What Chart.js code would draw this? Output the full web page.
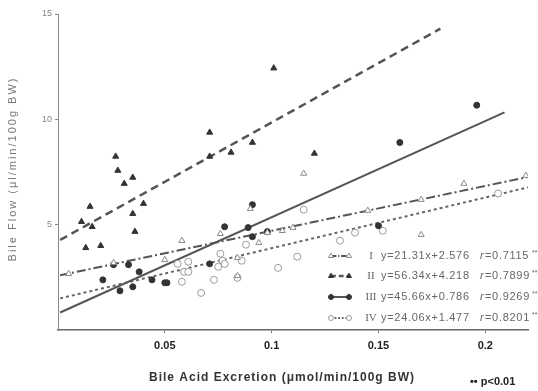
<!DOCTYPE html>
<html>
<head>
<meta charset="utf-8">
<script src="https://cdn.jsdelivr.net/npm/chart.js@4/dist/chart.umd.min.js"></script>
<style>
html, body { margin: 0; padding: 0; background: #fff; }
#wrap { width: 538px; height: 391px; position: relative; }
</style>
</head>
<body>
<div id="wrap"><canvas id="bileChart"></canvas></div>
<script>
// axis ticks
const xTicks = [0.05, 0.1, 0.15, 0.2];
const yTicks = [5, 10, 15];

// regression per group
const groups = ['I', 'II', 'III', 'IV'];
const slopes = [21.31, 56.34, 45.66, 24.06];
const intercepts = [2.576, 4.218, 0.786, 1.477];
const rValues = ['0.7115', '0.7899', '0.9269', '0.8201'];
const lineFrom = [0.001, 0.001, 0.001, 0.001];
const lineTo = [0.22, 0.179, 0.209, 0.22];

// group I (open triangles)
const excretionI = [0.005, 0.026, 0.050, 0.058, 0.076, 0.084, 0.084, 0.094, 0.090, 0.098, 0.105, 0.110, 0.115, 0.145, 0.170, 0.170, 0.190, 0.219];
const flowI      = [2.67, 3.19, 3.33, 4.24, 4.57, 3.43, 2.57, 4.14, 5.76, 4.62, 4.71, 4.86, 7.43, 5.67, 6.19, 4.52, 6.95, 7.33];

// group II (filled triangles)
const excretionII = [0.011, 0.015, 0.016, 0.013, 0.020, 0.027, 0.028, 0.031, 0.035, 0.035, 0.036, 0.040, 0.071, 0.071, 0.081, 0.091, 0.101, 0.120];
const flowII      = [5.14, 5.86, 4.90, 3.90, 4.00, 8.24, 7.57, 6.95, 7.24, 5.52, 4.67, 6.00, 9.38, 8.24, 8.43, 8.90, 12.43, 8.38];

// group III (filled circles)
const excretionIII = [0.021, 0.029, 0.035, 0.038, 0.033, 0.026, 0.044, 0.050, 0.051, 0.071, 0.078, 0.089, 0.091, 0.091, 0.098, 0.150, 0.160, 0.196];
const flowIII      = [2.38, 1.86, 2.05, 2.76, 3.10, 3.10, 2.38, 2.24, 2.24, 3.14, 4.90, 4.86, 4.43, 5.95, 4.67, 4.95, 8.90, 10.67];

// group IV (open circles)
const excretionIV = [0.056, 0.059, 0.061, 0.061, 0.058, 0.067, 0.073, 0.076, 0.077, 0.078, 0.075, 0.086, 0.088, 0.084, 0.103, 0.112, 0.115, 0.132, 0.139, 0.152, 0.206];
const flowIV      = [3.14, 2.76, 2.76, 3.24, 2.29, 1.76, 2.38, 3.62, 3.29, 3.14, 3.00, 3.29, 4.05, 2.48, 2.95, 3.48, 5.71, 4.24, 4.62, 4.71, 6.48];

const pointSets = [
    { xs: excretionI, ys: flowI, style: 'triangle', fill: '#fff', stroke: '#8a8a8a', r: 3.5 },
    { xs: excretionII, ys: flowII, style: 'triangle', fill: '#333', stroke: '#333', r: 3.5 },
    { xs: excretionIII, ys: flowIII, style: 'circle', fill: '#333', stroke: '#333', r: 3 },
    { xs: excretionIV, ys: flowIV, style: 'circle', fill: '#fff', stroke: '#9a9a9a', r: 3.5 }
];
const lineStyles = [
    { dash: [9, 3, 2, 3], width: 2, color: '#555' },
    { dash: [8, 5], width: 2.5, color: '#555' },
    { dash: [], width: 2, color: '#555' },
    { dash: [3, 3], width: 2, color: '#666' }
];

const datasets = [];
groups.forEach((g, i) => {
    const a = slopes[i], b = intercepts[i];
    datasets.push({
        type: 'line',
        label: g + ' fit',
        data: [lineFrom[i], lineTo[i]].map(x => ({ x: x, y: a * x + b })),
        borderColor: lineStyles[i].color,
        borderWidth: lineStyles[i].width,
        borderDash: lineStyles[i].dash,
        pointRadius: 0,
        fill: false,
        order: 2
    });
});
pointSets.forEach((p, i) => {
    datasets.push({
        type: 'scatter',
        label: groups[i],
        data: p.xs.map((x, k) => ({ x: x, y: p.ys[k] })),
        pointStyle: p.style,
        pointRadius: p.r,
        backgroundColor: p.fill,
        borderColor: p.stroke,
        borderWidth: 1,
        order: 1
    });
});

function drawMarker(ctx, style, x, y, r, fill, stroke) {
    ctx.save();
    ctx.setLineDash([]);
    ctx.beginPath();
    if (style === 'circle') {
        ctx.arc(x, y, r, 0, Math.PI * 2);
    } else {
        ctx.moveTo(x, y - r * 1.15);
        ctx.lineTo(x + r, y + r * 0.6);
        ctx.lineTo(x - r, y + r * 0.6);
        ctx.closePath();
    }
    ctx.fillStyle = fill;
    ctx.fill();
    ctx.strokeStyle = stroke;
    ctx.lineWidth = 1;
    ctx.stroke();
    ctx.restore();
}

const annotations = {
    id: 'annotations',
    afterDraw(chart) {
        const ctx = chart.ctx;
        ctx.save();

        // axis titles
        ctx.fillStyle = '#333';
        ctx.textAlign = 'center';
        ctx.textBaseline = 'middle';
        ctx.font = 'bold 12px "Liberation Sans", Arial, sans-serif';
        ctx.letterSpacing = '1px';
        ctx.fillText('Bile Acid Excretion (\u03bcmol/min/100g BW)', 282, 378);

        ctx.save();
        ctx.translate(13, 169);
        ctx.rotate(-Math.PI / 2);
        ctx.fillStyle = '#777';
        ctx.font = '11px "Liberation Sans", Arial, sans-serif';
        ctx.letterSpacing = '2px';
        ctx.fillText('Bile Flow (\u03bcl/min/100g BW)', 0, 0);
        ctx.restore();

        ctx.letterSpacing = '0px';
        ctx.fillStyle = '#222';
        ctx.textAlign = 'left';
        ctx.font = 'bold 11px "Liberation Sans", Arial, sans-serif';
        ctx.fillText('\u2022\u2022 p<0.01', 470, 382);

        // legend box
        const rows = [256, 276, 297, 318];
        groups.forEach((g, i) => {
            const y = rows[i];
            const ls = lineStyles[i];
            const ps = pointSets[i];
            ctx.save();
            ctx.strokeStyle = ls.color;
            ctx.lineWidth = ls.width;
            ctx.setLineDash(ls.dash.map(d => d * 0.6));
            ctx.beginPath();
            ctx.moveTo(331, y);
            ctx.lineTo(349, y);
            ctx.stroke();
            ctx.restore();
            drawMarker(ctx, ps.style, 331, y, 2.5, ps.fill, ps.stroke);
            drawMarker(ctx, ps.style, 349, y, 2.5, ps.fill, ps.stroke);

            ctx.fillStyle = '#666';
            ctx.textAlign = 'center';
            ctx.letterSpacing = '0px';
            ctx.font = '11px "Liberation Serif", serif';
            ctx.fillText(g, 371, y);

            ctx.textAlign = 'left';
            ctx.letterSpacing = '0.7px';
            ctx.font = '11px "Liberation Sans", Arial, sans-serif';
            ctx.fillText('y=' + slopes[i].toFixed(2) + 'x+' + intercepts[i].toFixed(3), 381, y);
            ctx.font = 'italic 11px "Liberation Sans", Arial, sans-serif';
            ctx.fillText('r', 480, y);
            ctx.font = '11px "Liberation Sans", Arial, sans-serif';
            ctx.fillText('=' + rValues[i], 485, y);
            ctx.letterSpacing = '0px';
            ctx.font = '7px "Liberation Sans", Arial, sans-serif';
            ctx.fillText('**', 532, y - 3);
        });
        ctx.restore();
    }
};

new Chart(document.getElementById('bileChart').getContext('2d'), {
    type: 'scatter',
    data: { datasets: datasets },
    options: {
        responsive: true,
        maintainAspectRatio: false,
        animation: false,
        layout: { padding: { left: 0, right: 10, top: 14, bottom: 0 } },
        plugins: {
            legend: { display: false },
            tooltip: { enabled: false }
        },
        scales: {
            x: {
                type: 'linear',
                min: 0,
                max: 0.22,
                afterBuildTicks: scale => { scale.ticks = xTicks.map(v => ({ value: v })); },
                afterFit: scale => { scale.height = 61; },
                grid: { display: true, drawOnChartArea: false, drawTicks: true, tickLength: 3, color: '#777' },
                border: { display: true, color: '#666', width: 1.5 },
                ticks: {
                    color: '#222',
                    padding: 6,
                    maxRotation: 0,
                    font: { family: '"Liberation Sans", Arial, sans-serif', size: 11, weight: 'bold' },
                    callback: v => String(v)
                }
            },
            y: {
                type: 'linear',
                min: 0,
                max: 15,
                afterBuildTicks: scale => { scale.ticks = yTicks.map(v => ({ value: v })); },
                afterFit: scale => { scale.width = 58; },
                grid: { display: true, drawOnChartArea: false, drawTicks: true, tickLength: 3, color: '#888' },
                border: { display: true, color: '#888', width: 1 },
                ticks: {
                    color: '#888',
                    padding: 3,
                    font: { family: '"Liberation Sans", Arial, sans-serif', size: 9 },
                    callback: v => String(v)
                }
            }
        }
    },
    plugins: [annotations]
});
</script>
</body>
</html>
